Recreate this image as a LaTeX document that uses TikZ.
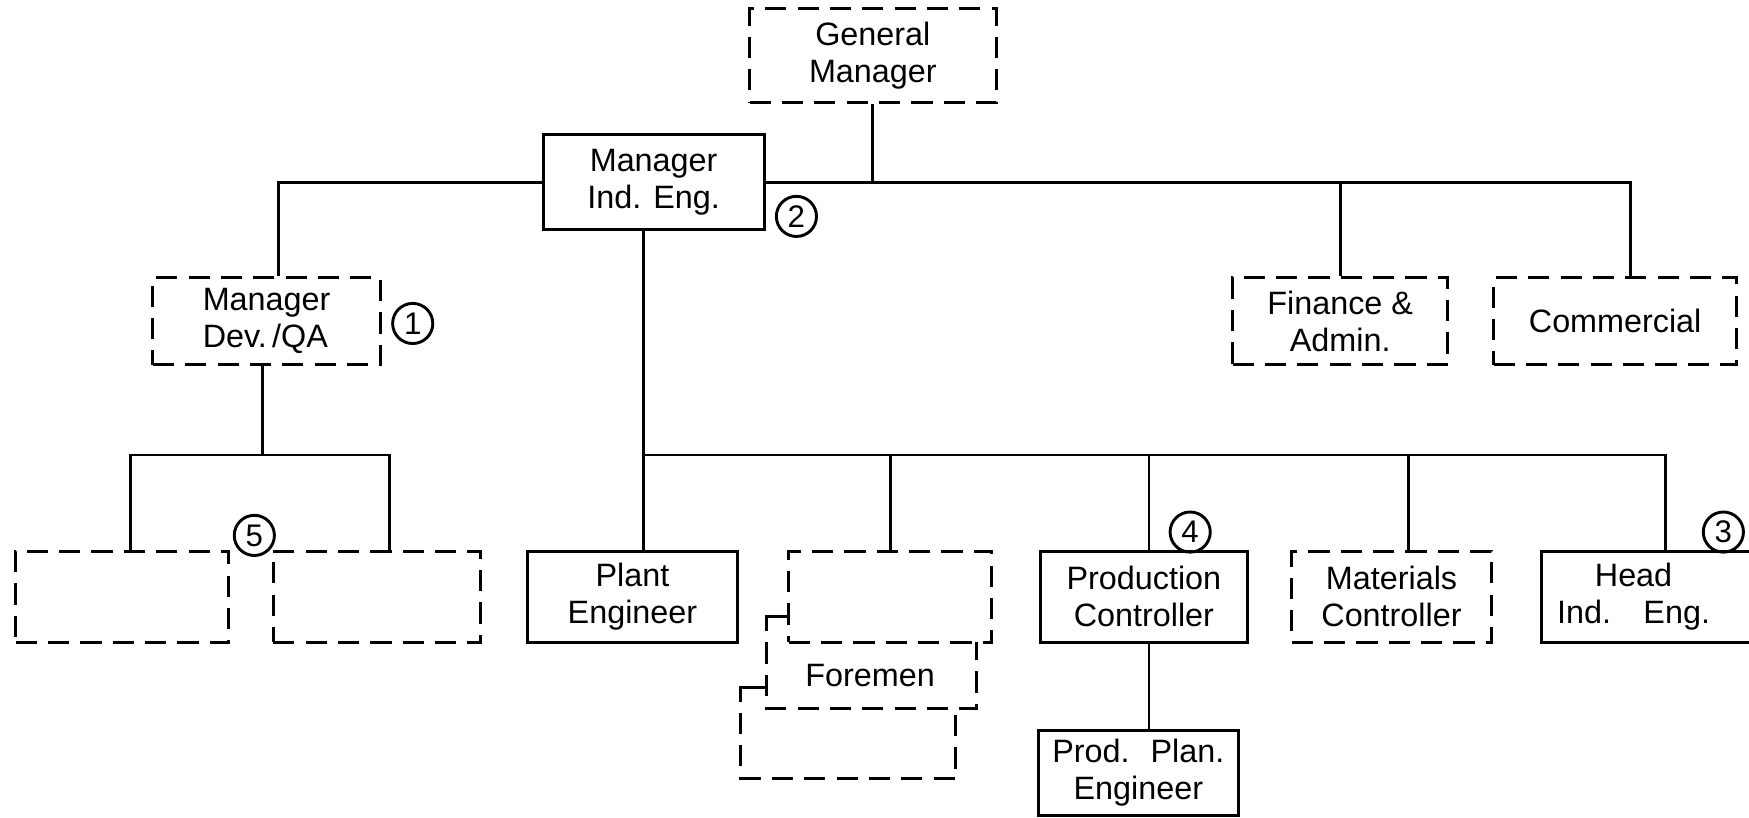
\documentclass[tikz,border=0pt]{standalone}
\usepackage{fontspec}
\setmainfont{Liberation Sans}
\usetikzlibrary{calc}
\begin{document}
\begin{tikzpicture}[x=0.5pt,y=-0.5pt,
  ln/.style={line width=1.25pt},
  dsh/.style={line width=1.35pt, dash pattern=on 9.5pt off 5pt},
  sbox/.style={draw, line width=1.35pt, inner sep=0pt, align=center, font=\fontsize{14.5}{16.5}\selectfont},
  dbox/.style={sbox, dash pattern=on 9.5pt off 5pt},
  num/.style={draw, circle, line width=1.3pt, minimum size=18pt, inner sep=0pt, font=\fontsize{14}{14}\selectfont},
  lbl/.style={font=\fontsize{14.5}{16.5}\selectfont, inner sep=0pt}
]
\useasboundingbox (0,0) rectangle (1568,733);

\node[dbox, minimum width=110.5pt, minimum height=42pt] (gm) at (782.5,50) {General\\Manager};
\node[sbox, minimum width=99pt, minimum height=42.5pt] (mie) at (586,163.5) {Manager\\Ind. Eng.};
\node[dbox, minimum width=102pt, minimum height=39pt, align=left] (mdq) at (239,288) {Manager\\Dev.\,/QA};
\node[dbox, minimum width=96.5pt, minimum height=39pt] (fin) at (1201.5,288) {Finance \&\\Admin.};
\node[dbox, minimum width=109pt, minimum height=39pt] (com) at (1448,288) {Commercial};
\node[dbox, minimum width=95.5pt, minimum height=41pt] (e1) at (109.5,535) {};
\node[dbox, minimum width=93pt, minimum height=41pt] (e2) at (338,535) {};
\node[sbox, minimum width=94pt, minimum height=41pt] (pe) at (567,535) {Plant\\Engineer};
\node[dbox, minimum width=91pt, minimum height=41pt] (fm1) at (798,535) {};
\node[sbox, minimum width=92.5pt, minimum height=41pt] (pc) at (1025.5,535) {Production\\Controller};
\node[dbox, minimum width=89.5pt, minimum height=41pt] (mc) at (1247.5,535) {Materials\\Controller};
\node[sbox, minimum width=96.5pt, minimum height=41pt] (hie) at (1478.5,535) {Head\hspace*{14pt}\\Ind.\quad Eng.\hspace*{14pt}};
\node[sbox, minimum width=89.5pt, minimum height=38pt] (ppe) at (1020.5,693) {Prod.~ Plan.\\Engineer};

\node[lbl] (fmn) at (780,606) {Foremen};

\node[num] (n1) at (370,290) {1};
\node[num] (n2) at (714,194) {2};
\node[num] (n3) at (1545,477) {3};
\node[num] (n4) at (1067,477) {4};
\node[num] (n5) at (228,480) {5};

% top level
\coordinate (jl) at (250,163);
\coordinate (jc) at (1462,163);
\draw[ln] (mie.west) -| (mdq.north -| jl);
\draw[ln] (mie.east) -| (com.north -| jc);
\draw[ln] (gm.south) -- (gm.south |- mie.east);
\draw[ln] (fin.north |- mie.east) -- (fin.north);

% Dev/QA subtree
\coordinate (b1) at (235,408);
\coordinate (be1) at (117,408);
\coordinate (be2) at (349,408);
\draw[ln] (mdq.south -| b1) -- (b1);
\draw[ln] (e1.north -| be1) |- (be2) -- (e2.north -| be2);

% Ind. Eng. subtree
\coordinate (bm) at (577,408);
\coordinate (bh) at (1493,408);
\coordinate (bpc) at (1030,408);
\coordinate (bmc) at (1263,408);
\draw[ln] (mie.south -| bm) -- (pe.north -| bm);
\draw[ln] (bm) -- (bh) -- (hie.north -| bh);
\draw[ln] (fm1.north |- bm) -- (fm1.north);
\draw[ln] (bpc) -- (pc.north -| bpc);
\draw[ln] (bmc) -- (mc.north -| bmc);
\draw[ln] (pc.south -| bpc) -- (ppe.north -| bpc);

% Foremen stack
\draw[line width=1.35pt] (707,553) -- (687,553) -- (687,566);
\draw[dsh] (687,576) -- (687,635) -- (875,635) -- (875,576);
\draw[line width=1.35pt] (687,616) -- (664,616) -- (664,629);
\draw[dsh] (664,639) -- (664,698) -- (857,698) -- (857,635);
\end{tikzpicture}
\end{document}
